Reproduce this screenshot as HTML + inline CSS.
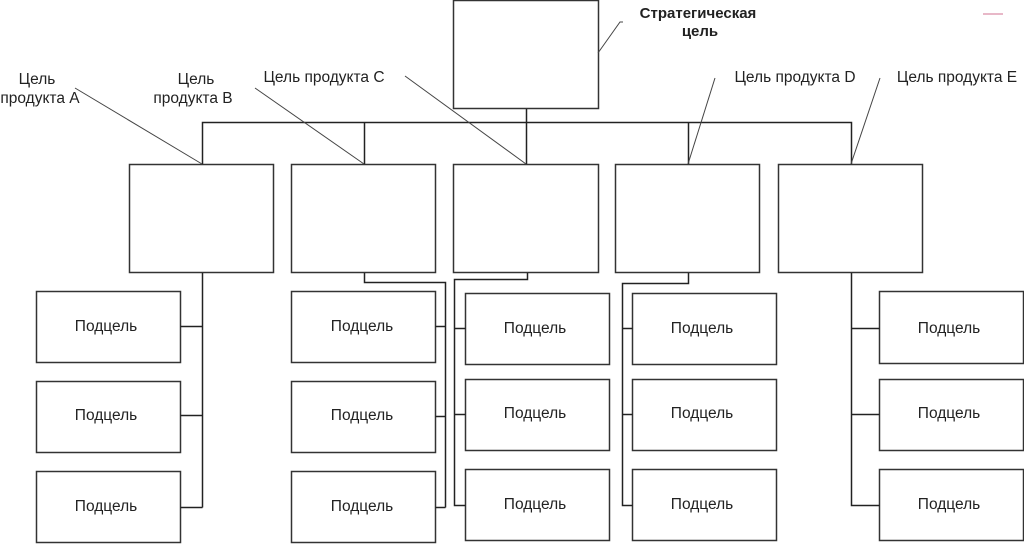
<!DOCTYPE html>
<html><head><meta charset="utf-8"><style>
html,body{margin:0;padding:0;background:#fff;}
svg{display:block;}
text{font-family:"Liberation Sans",Arial,sans-serif;font-size:15.5px;fill:#222;}
</style></head><body>
<svg width="1024" height="544" viewBox="0 0 1024 544" xmlns="http://www.w3.org/2000/svg">
<g fill="#fff" stroke="#333" stroke-width="1.5">
<rect x="453.5" y="0.5" width="145" height="108"/>
<rect x="129.5" y="164.5" width="144" height="108"/>
<rect x="291.5" y="164.5" width="144" height="108"/>
<rect x="453.5" y="164.5" width="145" height="108"/>
<rect x="615.5" y="164.5" width="144" height="108"/>
<rect x="778.5" y="164.5" width="144" height="108"/>
<rect x="36.5" y="291.5" width="144" height="71"/>
<rect x="36.5" y="381.5" width="144" height="71"/>
<rect x="36.5" y="471.5" width="144" height="71"/>
<rect x="291.5" y="291.5" width="144" height="71"/>
<rect x="291.5" y="381.5" width="144" height="71"/>
<rect x="291.5" y="471.5" width="144" height="71"/>
<rect x="465.5" y="293.5" width="144" height="71"/>
<rect x="465.5" y="379.5" width="144" height="71"/>
<rect x="465.5" y="469.5" width="144" height="71"/>
<rect x="632.5" y="293.5" width="144" height="71"/>
<rect x="632.5" y="379.5" width="144" height="71"/>
<rect x="632.5" y="469.5" width="144" height="71"/>
<rect x="879.5" y="291.5" width="144" height="72"/>
<rect x="879.5" y="379.5" width="144" height="71"/>
<rect x="879.5" y="469.5" width="144" height="71"/>
</g>
<g fill="none" stroke="#222" stroke-width="1.5">
<path d="M526.5 109V122.5M202.5 164V122.5H851.5V164M364.5 122.5V164M526.5 122.5V164M688.5 122.5V164"/>
<path d="M202.5 273V507.5M180.5 326.5H202.5M180.5 415.5H202.5M180.5 507.5H202.5"/>
<path d="M364.5 273V282.5H445.5V507.5M435.5 326.5H445.5M435.5 416.5H445.5M435.5 507.5H445.5"/>
<path d="M527.5 273V279.5H454.5V505.5H465.5M454.5 328.5H465.5M454.5 414.5H465.5"/>
<path d="M688.5 273V283.5H622.5V505.5H632.5M622.5 328.5H632.5M622.5 414.5H632.5"/>
<path d="M851.5 273V505.5H879.5M851.5 328.5H879.5M851.5 414.5H879.5"/>
</g>
<g fill="none" stroke="#444" stroke-width="1">
<path d="M75 88L202 164"/>
<path d="M255 88L364 164"/>
<path d="M405 76L526 164"/>
<path d="M715 78L688 164"/>
<path d="M880 78L851 164"/>
<path d="M623 22H620L598 53"/>
</g>
<rect x="983" y="13" width="20" height="2" fill="#e8b8c8"/>
<g text-anchor="middle">
<text x="37" y="84">Цель</text>
<text x="40" y="103">продукта А</text>
<text x="196" y="84">Цель</text>
<text x="193" y="103">продукта В</text>
<text x="324" y="82">Цель продукта С</text>
<text x="795" y="82">Цель продукта D</text>
<text x="957" y="82">Цель продукта Е</text>
<text x="698" y="18" style="font-weight:bold;font-size:15px">Стратегическая</text>
<text x="700" y="36" style="font-weight:bold;font-size:15px">цель</text>
<text x="106" y="331">Подцель</text>
<text x="106" y="420">Подцель</text>
<text x="106" y="511">Подцель</text>
<text x="362" y="331">Подцель</text>
<text x="362" y="420">Подцель</text>
<text x="362" y="511">Подцель</text>
<text x="535" y="333">Подцель</text>
<text x="535" y="418">Подцель</text>
<text x="535" y="509">Подцель</text>
<text x="702" y="333">Подцель</text>
<text x="702" y="418">Подцель</text>
<text x="702" y="509">Подцель</text>
<text x="949" y="333">Подцель</text>
<text x="949" y="418">Подцель</text>
<text x="949" y="509">Подцель</text>
</g>
</svg>
</body></html>
